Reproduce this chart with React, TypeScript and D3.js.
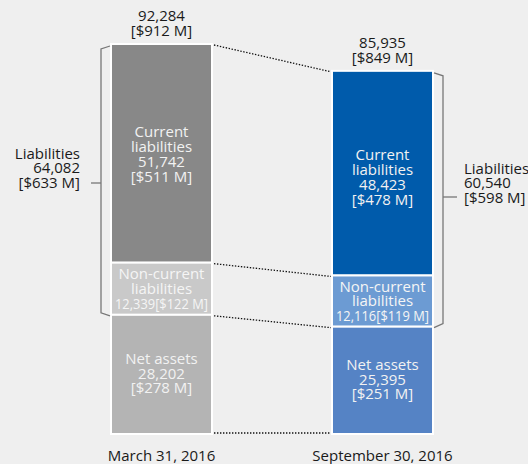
import React from "react";
import * as d3 from "d3";

const dates = ["March 31, 2016", "September 30, 2016"];
const totals = [92284, 85935];
const totalsUsd = [912, 849];
const currentLiab = [51742, 48423];
const currentUsd = [511, 478];
const nonCurrentLiab = [12339, 12116];
const nonCurrentUsd = [122, 119];
const netAssets = [28202, 25395];
const netUsd = [278, 251];
const liabilities = [64082, 60540];
const liabilitiesUsd = [633, 598];

const W = 528;
const H = 464;
const FONT = "'Open Sans', sans-serif";
const FS = 15;
const LH = 14.8;

const colors = [
  { cur: "#888888", non: "#c9c9c9", net: "#b4b4b4" },
  { cur: "#005bab", non: "#6c9bd3", net: "#5583c5" },
];

const fmt = d3.format(",");

export default function App() {
  const x = d3.scaleBand<string>().domain(dates).range([111, 433]).paddingInner(0.543).paddingOuter(0);
  const y = d3.scaleLinear().domain([0, 92284]).range([434, 44]);
  const bw = x.bandwidth();

  const lines = (cx: number, cy: number, arr: string[], fill: string, anchor = "middle", fitLast = 0) => {
    const n = arr.length;
    return arr.map((t, i) => (
      <text key={i} x={cx} y={cy + (i - (n - 1) / 2) * LH} dy="0.35em" textAnchor={anchor} fill={fill}
        fontFamily={FONT} fontSize={FS}
        {...(fitLast && i === n - 1 ? { textLength: fitLast, lengthAdjust: "spacingAndGlyphs" } : {})}>{t}</text>
    ));
  };

  const bars = dates.map((d, i) => {
    const x0 = x(d)!;
    const cx = x0 + bw / 2;
    const yTop = y(totals[i]);
    const yCN = y(nonCurrentLiab[i] + netAssets[i]);
    const yNN = y(netAssets[i]);
    const yBot = y(0);
    const c = colors[i];
    return (
      <g key={d}>
        <rect x={x0} y={yTop} width={bw} height={yCN - yTop} fill={c.cur} stroke="#ffffff" strokeWidth={2} />
        <rect x={x0} y={yCN} width={bw} height={yNN - yCN} fill={c.non} stroke="#ffffff" strokeWidth={2} />
        <rect x={x0} y={yNN} width={bw} height={yBot - yNN} fill={c.net} stroke="#ffffff" strokeWidth={2} />
        {lines(cx, (yTop + yCN) / 2 + (i === 0 ? 1 : 4), ["Current", "liabilities", fmt(currentLiab[i]), `[$${currentUsd[i]} M]`], "#f2f2f2")}
        {lines(cx, (yCN + yNN) / 2, ["Non-current", "liabilities", `${fmt(nonCurrentLiab[i])}[$${nonCurrentUsd[i]} M]`], "#f5f5f5", "middle", 93)}
        {lines(cx, (yNN + yBot) / 2 - 1, ["Net assets", fmt(netAssets[i]), `[$${netUsd[i]} M]`], "#f2f2f2")}
        {lines(cx, yTop - 20.5, [fmt(totals[i]), `[$${totalsUsd[i]} M]`], "#1a1a1a")}
        <text x={cx} y={456} dy="0.35em" textAnchor="middle" fill="#1a1a1a" fontFamily={FONT} fontSize={FS}>{d}</text>
      </g>
    );
  });

  // connectors
  const bnds = (i: number) => [y(totals[i]), y(nonCurrentLiab[i] + netAssets[i]), y(netAssets[i]), y(0)];
  const b0 = bnds(0);
  const b1 = bnds(1);
  const xr = x(dates[0])! + bw + 2;
  const xl = x(dates[1])! - 1;

  // brackets
  const lx = x(dates[0])! - 10;
  const lTop = b0[0] + 5;
  const lBot = b0[2] - 2;
  const lMid = 183;
  const rx = x(dates[1])! + bw + 10;
  const rTop = b1[0] + 5;
  const rBot = b1[2] - 3;
  const rMid = 197;

  return (
    <svg width={W} height={H} style={{ position: "absolute", left: 0, top: 0, display: "block" }}>
      <rect x={0} y={0} width={W} height={H} fill="#efefef" />
      {[0, 1, 2, 3].map((k) => (
        <line key={k} x1={xr} y1={b0[k] + (k === 3 ? -1 : 1)} x2={xl} y2={b1[k] + (k === 3 ? -1 : 1)} stroke="#111"
          strokeWidth={1.3} strokeDasharray="1.4,1.6" />
      ))}
      {bars}
      <path d={`M${x(dates[0])! - 1},${b0[0] + 2}L${lx},${lTop}L${lx},${lBot}L${x(dates[0])! - 1},${b0[2] + 1}`}
        fill="none" stroke="#777" strokeWidth={1.3} />
      <line x1={lx - 10} y1={lMid} x2={lx} y2={lMid} stroke="#777" strokeWidth={1.3} />
      {lines(80, lMid - LH, ["Liabilities", fmt(liabilities[0]), `[$${liabilitiesUsd[0]} M]`], "#1a1a1a", "end")}
      <path d={`M${x(dates[1])! + bw + 1},${b1[0] + 2}L${rx},${rTop}L${rx},${rBot}L${x(dates[1])! + bw + 1},${b1[2] + 1}`}
        fill="none" stroke="#777" strokeWidth={1.3} />
      <line x1={rx} y1={rMid} x2={rx + 14} y2={rMid} stroke="#777" strokeWidth={1.3} />
      {lines(464, rMid - LH + 1, ["Liabilities", fmt(liabilities[1]), `[$${liabilitiesUsd[1]} M]`], "#1a1a1a", "start")}
    </svg>
  );
}
